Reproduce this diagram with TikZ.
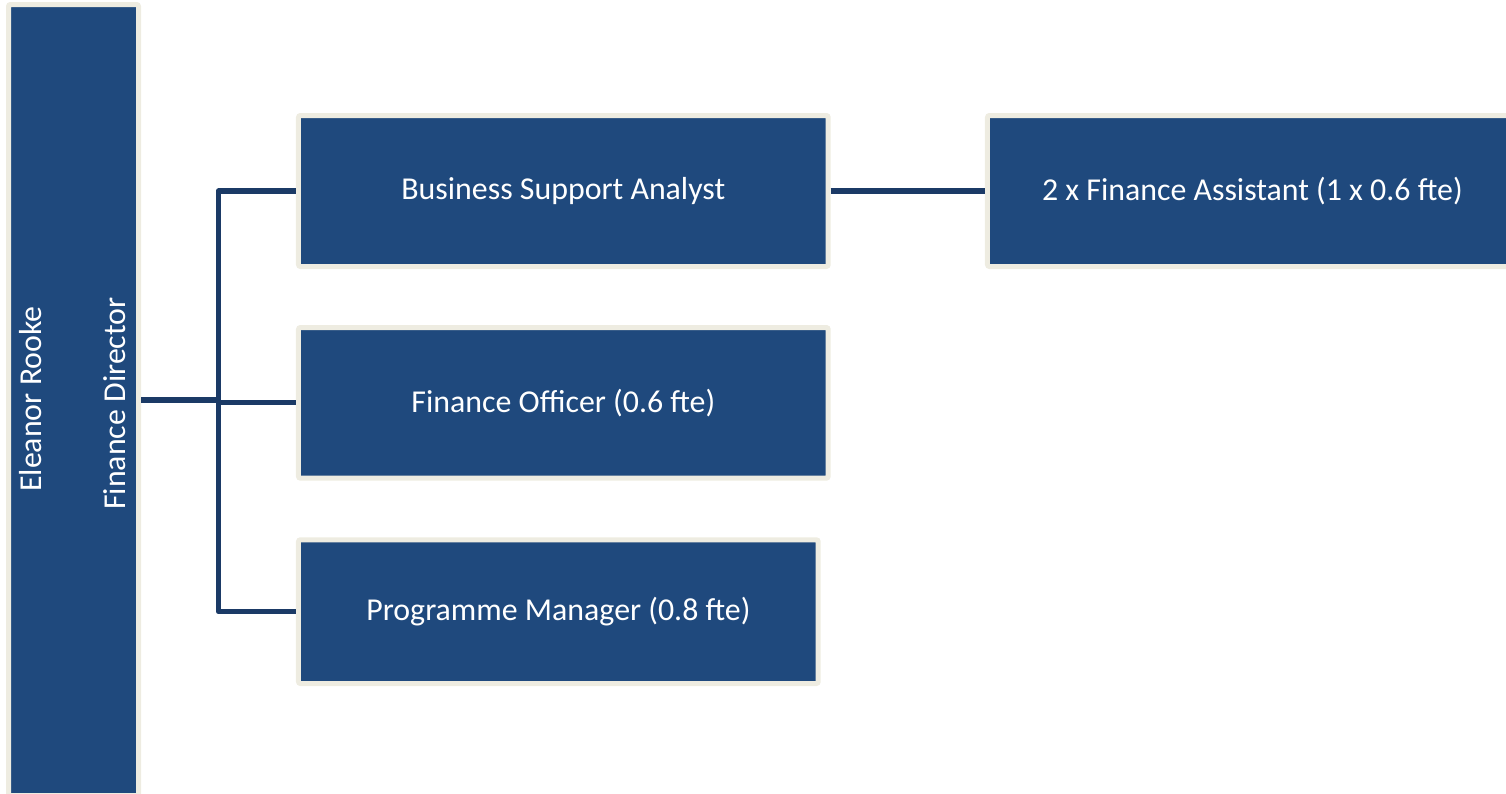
\documentclass[tikz,border=0pt]{standalone}
\usepackage{fontspec}
\setmainfont{Carlito}
\definecolor{boxblue}{HTML}{1F497D}
\definecolor{boxrim}{HTML}{EEECE1}
\definecolor{linkblue}{HTML}{1B3A66}

\begin{document}
\begin{tikzpicture}[x=0.75pt,y=-0.75pt,
		post/.style={draw=boxrim,fill=boxblue,line width=3.75pt,rounded corners=1.5pt,inner sep=0pt,text=white,font=\fontsize{23.9pt}{28pt}\selectfont},
		turned/.style={rotate=90,inner sep=0pt,text=white,font=\fontsize{23.9pt}{28pt}\selectfont},
		link/.style={draw=linkblue,line width=3.9pt,line join=round}]
		%%%%% START %%%%%
		\clip (0,0) rectangle (1506,793);
		
		\node[post,minimum width=97.5pt,minimum height=593.25pt] (dir) at (73.5,400) {};
		\node[turned] (dirname) at (31,399) {Eleanor Rooke};
		\node[turned] (dirrole) at (115,403.5) {Finance Director};
		
		\node[post,minimum width=397.3pt,minimum height=113.25pt] (bsa) at (563.35,191) {Business Support Analyst};
		\node[post,minimum width=397.3pt,minimum height=113pt] (fo) at (563.35,402.85) {Finance Officer (0.6 fte)};
		\node[post,minimum width=389.8pt,minimum height=107.8pt] (pm) at (558.35,611.65) {Programme Manager (0.8 fte)};
		\node[post,minimum width=397.3pt,minimum height=113.25pt] (fa) at (1252.35,191) {2 x Finance Assistant (1 x 0.6 fte)};
		
		\coordinate (fork) at (218.3,400);
		\draw[link] (dir.east) -- (fork);
		\draw[link] (bsa.west) -| (fork) |- (pm.west);
		\draw[link] (fork |- fo.west) -- (fo.west);
		\draw[link] (bsa.east) -- (fa.west);
		%%%%% END %%%%%
\end{tikzpicture}
\end{document}
